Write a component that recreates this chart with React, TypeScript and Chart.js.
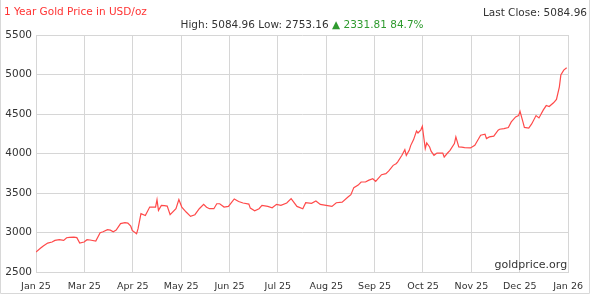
import React, { useEffect, useRef } from "react";
import { Chart, registerables } from "chart.js";

Chart.register(...registerables);

const TITLE = "1 Year Gold Price in USD/oz";
const LAST_CLOSE = "Last Close: 5084.96";
const SUMMARY_LEFT = "High: 5084.96 Low: 2753.16 ";
const SUMMARY_CHANGE = "\u25B2 2331.81 84.7%";
const WATERMARK = "goldprice.org";

const monthLabels = [
  "Jan 25", "Mar 25", "Apr 25", "May 25", "Jun 25", "Jul 25",
  "Aug 25", "Sep 25", "Oct 25", "Nov 25", "Dec 25", "Jan 26",
];
const yTicks = [2500, 3000, 3500, 4000, 4500, 5000, 5500];
const spanDays = 365;

// day offset from start of window
const days = [
  0, 3, 5, 8, 11, 13, 16, 19, 21, 23, 26, 28, 30, 33, 35, 37, 41, 44, 46, 49,
  51, 53, 55, 58, 61, 63, 65, 66, 69, 70, 72, 75, 78, 80, 82, 83, 84, 86, 88, 90,
  92, 96, 98, 100, 103, 106, 109, 112, 115, 117, 119, 122, 124, 126, 129, 132, 136, 139, 142, 146,
  147, 150, 153, 155, 159, 162, 165, 168, 172, 175, 179, 183, 185, 189, 192, 195, 199, 203, 206, 210,
  214, 216, 218, 221, 223, 226, 228, 231, 233, 237, 240, 242, 245, 247, 248, 251, 253, 254, 256, 257,
  259, 261, 262, 264, 265, 267, 268, 270, 271, 273, 275, 279, 280, 282, 284, 287, 288, 290, 292, 294,
  298, 301, 303, 305, 308, 309, 311, 314, 317, 318, 321, 324, 326, 329, 331, 332, 334, 335, 338, 340,
  343, 345, 348, 350, 352, 355, 357, 359, 360, 362, 364,
];

const prices = [
  2753, 2800, 2830, 2866, 2880, 2900, 2909, 2900, 2934, 2938, 2942, 2935, 2866, 2880, 2909, 2905, 2891, 2997, 3010, 3035,
  3030, 3010, 3030, 3112, 3124, 3119, 3080, 3027, 2985, 3048, 3238, 3216, 3322, 3320, 3322, 3416, 3280, 3343, 3340, 3334,
  3225, 3301, 3416, 3322, 3259, 3205, 3225, 3301, 3356, 3320, 3301, 3301, 3364, 3364, 3322, 3330, 3424, 3393, 3373, 3360,
  3309, 3275, 3301, 3343, 3330, 3313, 3356, 3343, 3373, 3428, 3330, 3301, 3377, 3370, 3398, 3356, 3343, 3330, 3377, 3385,
  3449, 3479, 3568, 3600, 3639, 3639, 3660, 3681, 3647, 3732, 3745, 3780, 3850, 3871, 3892, 3977, 4049, 3977, 4040, 4100,
  4176, 4285, 4260, 4300, 4345, 4062, 4133, 4083, 4030, 3977, 4006, 4006, 3955, 4000, 4040, 4125, 4210, 4083, 4080, 4075,
  4070, 4104, 4167, 4231, 4244, 4189, 4210, 4219, 4295, 4307, 4316, 4328, 4400, 4463, 4480, 4534, 4400, 4331, 4323, 4374,
  4480, 4450, 4552, 4607, 4594, 4642, 4685, 4844, 4993, 5056, 5085,
];

const FONT = "'DejaVu Sans', Verdana, sans-serif";

const headerPlugin = {
  id: "header",
  afterDraw(chart: any) {
    const ctx = chart.ctx as CanvasRenderingContext2D;
    const area = chart.chartArea;
    ctx.save();
    ctx.textBaseline = "middle";
    ctx.font = `10.5px ${FONT}`;
    ctx.fillStyle = "#ff3333";
    ctx.textAlign = "left";
    ctx.fillText(TITLE, 4, 12);
    ctx.fillStyle = "#333333";
    ctx.textAlign = "right";
    ctx.fillText(LAST_CLOSE, 587, 13);
    const w1 = ctx.measureText(SUMMARY_LEFT).width;
    const w2 = ctx.measureText(SUMMARY_CHANGE).width;
    const start = (area.left + area.right) / 2 - (w1 + w2) / 2;
    ctx.textAlign = "left";
    ctx.fillStyle = "#333333";
    ctx.fillText(SUMMARY_LEFT, start, 25);
    ctx.fillStyle = "#2e9a2e";
    ctx.fillText(SUMMARY_CHANGE, start + w1, 25);
    ctx.font = `11px ${FONT}`;
    ctx.fillStyle = "#333333";
    ctx.textAlign = "right";
    ctx.textBaseline = "alphabetic";
    ctx.fillText(WATERMARK, area.right - 1, area.bottom - 4);
    ctx.strokeStyle = "#d8d8d8";
    ctx.lineWidth = 1;
    ctx.beginPath();
    ctx.moveTo(0.5, 0);
    ctx.lineTo(0.5, 293.5);
    ctx.lineTo(589.5, 293.5);
    ctx.lineTo(589.5, 0);
    ctx.stroke();
    ctx.restore();
  },
};

export default function App() {
  const ref = useRef<HTMLCanvasElement | null>(null);
  useEffect(() => {
    if (!ref.current) return;
    const chart = new Chart(ref.current, {
      type: "line",
      data: {
        datasets: [
          {
            data: days.map((d, i) => ({ x: d, y: prices[i] })),
            borderColor: "#ff4a4a",
            borderWidth: 1.2,
            pointRadius: 0,
            tension: 0,
            fill: false,
          },
        ],
      },
      options: {
        animation: false,
        responsive: false,
        events: [],
        layout: { padding: { left: 0, top: 35, right: 20, bottom: 0 } },
        plugins: { legend: { display: false }, tooltip: { enabled: false } },
        scales: {
          x: {
            type: "linear",
            min: 0,
            max: spanDays,
            afterBuildTicks(scale: any) {
              scale.ticks = monthLabels.map((_, i) => ({ value: (i * spanDays) / (monthLabels.length - 1) }));
            },
            afterFit(scale: any) {
              scale.height = 25;
            },
            grid: { color: "#d6d6d6", lineWidth: 1, drawTicks: false },
            border: { color: "#d6d6d6" },
            ticks: {
              padding: 9,
              autoSkip: false,
              maxRotation: 0,
              color: "#333333",
              font: { family: FONT, size: 9.5 },
              callback: (_v: any, i: number) => monthLabels[i],
            },
          },
          y: {
            min: yTicks[0],
            max: yTicks[yTicks.length - 1],
            afterBuildTicks(scale: any) {
              scale.ticks = yTicks.map((v) => ({ value: v }));
            },
            afterFit(scale: any) {
              scale.width = 36;
            },
            grid: { color: "#d6d6d6", lineWidth: 1, drawTicks: false },
            border: { color: "#d6d6d6" },
            ticks: {
              padding: 4,
              color: "#333333",
              font: { family: FONT, size: 10.5 },
              callback: (v: any) => String(v),
            },
          },
        },
      },
      plugins: [headerPlugin],
    });
    return () => chart.destroy();
  }, []);
  return (
    <div style={{ position: "absolute", left: 0, top: 0, width: 592, height: 297, background: "#fff" }}>
      <canvas ref={ref} width={592} height={297} />
    </div>
  );
}
